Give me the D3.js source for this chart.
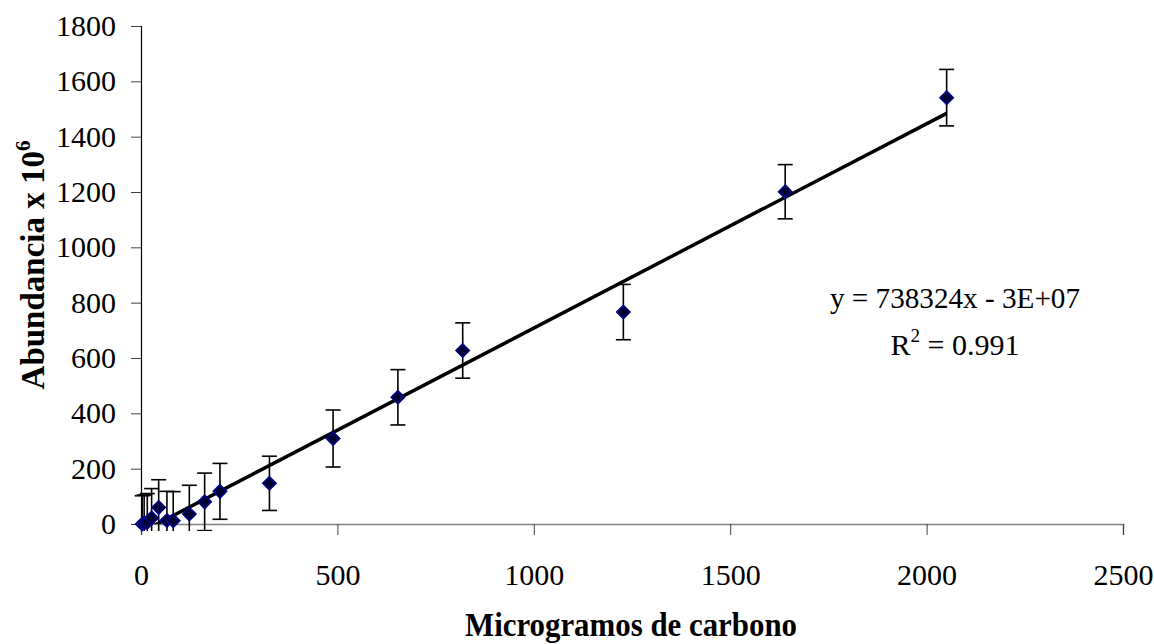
<!DOCTYPE html>
<html>
<head>
<meta charset="utf-8">
<script src="https://cdn.jsdelivr.net/npm/d3@7"></script>
<style>
  body { margin: 0; background: #fff; }
  text { font-family: "Liberation Serif", "Times New Roman", serif; }
</style>
</head>
<body>
<div id="chart"></div>
<script>
// Data (abundance in units of 10^6)
const carbono    = [3, 8, 16, 27, 45, 66, 82, 123, 162, 201, 327, 489, 654, 819, 1228, 1640, 2051];
const abundancia = [0, 3, 6, 22, 60, 13, 12, 36, 80, 118, 147, 309, 458, 627, 766, 1201, 1541];
const errores    = [102, 102, 104, 106, 100, 105, 105, 104, 104, 101, 98, 103, 100, 100, 100, 98, 102];

const xTicks = [0, 500, 1000, 1500, 2000, 2500];
const yTicks = [0, 200, 400, 600, 800, 1000, 1200, 1400, 1600, 1800];

// Linear trend shown on the chart: y = 738324x - 3E+07 (scaled by 10^6)
const trendSlope = 0.738324;
const trendIntercept = -30;
const ecuacion = "y = 738324x - 3E+07";
const r2 = "0.991";

const w = 1154, h = 644;
const m = { left: 141, right: 31, top: 26, bottom: 120 };

const svg = d3.select("#chart").append("svg")
  .attr("width", w).attr("height", h);

const xScale = d3.scaleLinear().domain([0, 2500]).range([m.left, w - m.right]);
const yScale = d3.scaleLinear().domain([0, 1800]).range([h - m.bottom, m.top]);

const defs = svg.append("defs");
defs.append("clipPath").attr("id", "plotClip").append("rect")
  .attr("x", m.left).attr("y", m.top)
  .attr("width", w - m.left - m.right).attr("height", h - m.top - m.bottom);
defs.append("clipPath").attr("id", "barClip").append("rect")
  .attr("x", m.left - 10).attr("y", m.top - 10)
  .attr("width", w - m.left - m.right + 20).attr("height", h - m.top - m.bottom + 17);

// Axes
const xAxis = d3.axisBottom(xScale).tickValues(xTicks).tickSize(11).tickPadding(29).tickFormat(d3.format("d"));
const yAxis = d3.axisLeft(yScale).tickValues(yTicks).tickSize(10).tickPadding(15).tickFormat(d3.format("d"));

const gx = svg.append("g")
  .attr("transform", "translate(0," + (h - m.bottom) + ")")
  .call(xAxis);
gx.select(".domain").attr("stroke", "#808080").attr("stroke-width", 1.5);
gx.selectAll(".tick line").attr("stroke", "#404040");

const gy = svg.append("g")
  .attr("transform", "translate(" + m.left + ",0)")
  .call(yAxis);
gy.select(".domain").attr("stroke", "#000").attr("stroke-width", 1.2);
gy.selectAll(".tick line").attr("stroke", "#404040");

svg.selectAll(".tick text")
  .attr("font-family", "Liberation Serif")
  .attr("font-size", 30)
  .attr("fill", "#000");

// Trend line
svg.append("line")
  .attr("clip-path", "url(#plotClip)")
  .attr("x1", xScale(d3.min(carbono)))
  .attr("y1", yScale(trendSlope * d3.min(carbono) + trendIntercept))
  .attr("x2", xScale(d3.max(carbono)))
  .attr("y2", yScale(trendSlope * d3.max(carbono) + trendIntercept))
  .attr("stroke", "#000")
  .attr("stroke-width", 3.5);

// Error bars
const puntos = carbono.map((c, i) => ({ x: c, y: abundancia[i], e: errores[i] }));
const bars = svg.append("g").attr("clip-path", "url(#barClip)")
  .selectAll("g").data(puntos).enter().append("g")
  .attr("stroke", "#000").attr("stroke-width", 1.6);
bars.append("line")
  .attr("x1", d => xScale(d.x)).attr("x2", d => xScale(d.x))
  .attr("y1", d => yScale(d.y + d.e)).attr("y2", d => yScale(d.y - d.e));
bars.append("line")
  .attr("x1", d => xScale(d.x) - 7.5).attr("x2", d => xScale(d.x) + 7.5)
  .attr("y1", d => yScale(d.y + d.e)).attr("y2", d => yScale(d.y + d.e));
bars.append("line")
  .attr("x1", d => xScale(d.x) - 7.5).attr("x2", d => xScale(d.x) + 7.5)
  .attr("y1", d => yScale(d.y - d.e)).attr("y2", d => yScale(d.y - d.e));

// Diamond markers
svg.append("g").selectAll("path").data(puntos).enter().append("path")
  .attr("d", "M0,-6.5L6.5,0L0,6.5L-6.5,0Z")
  .attr("transform", d => "translate(" + xScale(d.x) + "," + yScale(d.y) + ")")
  .attr("fill", "#00002e")
  .attr("stroke", "#000080")
  .attr("stroke-width", 1.8);

// Equation labels
svg.append("text")
  .attr("x", 955).attr("y", 308)
  .attr("text-anchor", "middle")
  .attr("font-size", 30)
  .attr("textLength", 250)
  .attr("lengthAdjust", "spacingAndGlyphs")
  .text(ecuacion);

const r2Text = svg.append("text")
  .attr("x", 955).attr("y", 355)
  .attr("text-anchor", "middle")
  .attr("font-size", 30);
r2Text.append("tspan").text("R");
r2Text.append("tspan").attr("dy", -13).attr("font-size", 19).text("2");
r2Text.append("tspan").attr("dy", 13).text(" = " + r2);

// Axis titles
svg.append("text")
  .attr("x", 631).attr("y", 636)
  .attr("text-anchor", "middle")
  .attr("font-size", 33)
  .attr("font-weight", "bold")
  .attr("textLength", 332)
  .attr("lengthAdjust", "spacingAndGlyphs")
  .text("Microgramos de carbono");

const yTitle = svg.append("text")
  .attr("transform", "translate(44,265) rotate(-90)")
  .attr("text-anchor", "middle")
  .attr("font-size", 33)
  .attr("font-weight", "bold");
yTitle.append("tspan").text("Abundancia x 10");
yTitle.append("tspan").attr("dy", -14).attr("font-size", 21).text("6");
</script>
</body>
</html>
